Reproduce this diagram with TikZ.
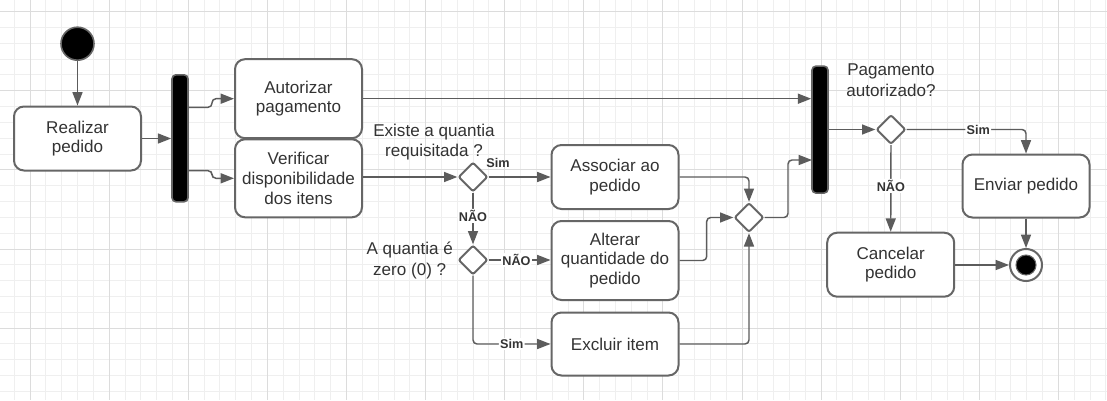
\documentclass[tikz,border=0pt]{standalone}
\usepackage{fontspec}
\setmainfont{Liberation Sans}
\usetikzlibrary{shapes.geometric}
\usetikzlibrary{positioning}
\usetikzlibrary{arrows.meta}
\definecolor{linegray}{HTML}{5C5C5C}
\definecolor{boxgray}{HTML}{666666}
\definecolor{txtgray}{HTML}{333333}
\definecolor{gridminor}{HTML}{EFEFEF}
\definecolor{gridmajor}{HTML}{DCDCDC}
\tikzset{
    actbox/.style = {rectangle, rounded corners=7.5pt, line width=1.5pt, draw=boxgray, fill=white, align=center, minimum width=95.25pt, inner sep=2pt, text=txtgray, font=\fontsize{12.8}{14.8}\selectfont},
    forkbar/.style = {rectangle, rounded corners=3pt, line width=1.2pt, draw=boxgray, fill=black, minimum width=12pt, minimum height=95.25pt, inner sep=0pt},
    decis/.style = {diamond, aspect=1, line width=1.5pt, draw=boxgray, fill=white, minimum size=22pt, inner sep=0pt, rounded corners=1.5pt},
    startnode/.style = {circle, line width=1.2pt, draw=boxgray, fill=black, minimum size=24.75pt, inner sep=0pt},
    endnode/.style = {circle, line width=1.5pt, draw=boxgray, fill=white, minimum size=24pt, inner sep=0pt},
    endcore/.style = {circle, line width=0.8pt, draw=boxgray, fill=black, minimum size=15pt, inner sep=0pt},
    qtext/.style = {align=center, text=txtgray, inner sep=0pt, font=\fontsize{12.8}{15.5}\selectfont},
    flow/.style = {line width=1.1pt, draw=linegray, rounded corners=3pt, -{Triangle[length=10pt,width=7.5pt]}},
    flowlbl/.style = {font=\bfseries\fontsize{9.5}{11}\selectfont, text=txtgray, fill=white, inner sep=1pt},
    flowlbln/.style = {font=\bfseries\fontsize{9.5}{11}\selectfont, text=txtgray, inner sep=1pt},
    gridl/.style = {line width=0.75pt, draw=gridminor},
    gridm/.style = {line width=0.75pt, draw=gridmajor}
}
\begin{document}
\begin{tikzpicture}[x=0.75pt, y=-0.75pt]
% background grid
\fill[white] (0,0) rectangle (1107,400);
\begin{scope}
\clip (0,0) rectangle (1107,400);
\foreach \k in {0,...,70} \draw[gridl] ({-1.5+15.82*\k},0) -- ({-1.5+15.82*\k},400);
\foreach \k in {0,...,26} \draw[gridl] (0,{-4.12+15.82*\k}) -- (1107,{-4.12+15.82*\k});
\foreach \k in {0,...,13} \draw[gridm] ({30.14+79.1*\k},0) -- ({30.14+79.1*\k},400);
\foreach \k in {0,...,4} \draw[gridm] (0,{11.7+79.1*\k}) -- (1107,{11.7+79.1*\k});
\end{scope}
%
\node[startnode] at (77.5, 43.7) (ini) {};
\node[actbox, minimum height=48pt] at (77.5, 138.5) (real) {Realizar\\pedido};
\node[forkbar] at (180, 138.3) (fork1) {};
\node[actbox, minimum height=59.25pt] at (298.5, 98.7) (auto) {Autorizar\\pagamento};
\node[actbox, minimum height=58.5pt] at (298.5, 178.3) (veri) {Verificar\\disponibilidade\\dos itens};
\node[decis] at (473, 177) (d1) {};
\node[qtext] at (434, 142) (q1) {Existe a quantia\\requisitada ?};
\node[decis] at (473, 260) (d2) {};
\node[qtext] at (409.7, 260.5) (q2) {A quantia é\\zero (0) ?};
\node[actbox, minimum height=48pt] at (615, 177) (assoc) {Associar ao\\pedido};
\node[actbox, minimum height=59.25pt] at (615, 260.5) (alter) {Alterar\\quantidade do\\pedido};
\node[actbox, minimum height=47.25pt] at (615, 344) (excl) {Excluir item};
\node[decis] at (749, 217.5) (dm) {};
\node[forkbar] at (820, 129.6) (fork2) {};
\node[decis] at (891, 129.5) (d3) {};
\node[qtext] at (891, 80.4) (q3) {Pagamento\\autorizado?};
\node[actbox, minimum height=47.25pt] at (1026, 186) (envi) {Enviar pedido};
\node[actbox, minimum height=48pt] at (890.7, 264.7) (canc) {Cancelar\\pedido};
\node[endnode] at (1026, 265) (fim) {};
\node[endcore] at (fim) (fimc) {};
%
\coordinate (f1a) at (188, 107.3);
\coordinate (f1b) at (188, 170.7);
\coordinate (f2in) at (812, 160);
%
\draw[flow] (ini) -- (real);
\draw[flow] (real.east) -- (fork1.west |- real.east);
\draw[flow] (f1a) -- (212, 107.3) |- (auto.west);
\draw[flow] (f1b) -- (212, 170.7) |- (veri.west);
\draw[flow] (auto.east) -- (fork2.west |- auto.east);
\draw[flow] (veri.east |- d1.west) -- (d1.west);
\draw[flow] (d1.east) -- (assoc.west);
\node[flowlbln] at (498, 163) (s1) {Sim};
\draw[flow] (d1.south) -- node[flowlbl, pos=0.45] (n1) {NÃO} (d2.north);
\draw[flow] (d2.east) -- node[flowlbl, pos=0.45] (n2) {NÃO} (alter.west |- d2.east);
\draw[flow] (d2.south) |- node[flowlbl, pos=0.75] (s2) {Sim} (excl.west);
\draw[flow] (assoc.east) -| (dm.north);
\draw[flow] (alter.east) -- (706.7, 260.5) |- (dm.west);
\draw[flow] (excl.east) -| (dm.south);
\draw[flow] (dm.east) -- (788, 217.5) |- (f2in);
\draw[flow] (fork2.east |- d3.west) -- (d3.west);
\draw[flow] (d3.east) -| node[flowlbl, pos=0.3] (s3) {Sim} (envi.north);
\draw[flow] (d3.south) -- node[flowlbl, pos=0.47] (n3) {NÃO} (canc.north);
\draw[flow] (canc.east |- fim.west) -- (fim.west);
\draw[flow] (envi.south) -- (fim.north);

\path[use as bounding box] (0,0) rectangle (1107,400);
\end{tikzpicture}
\end{document}
